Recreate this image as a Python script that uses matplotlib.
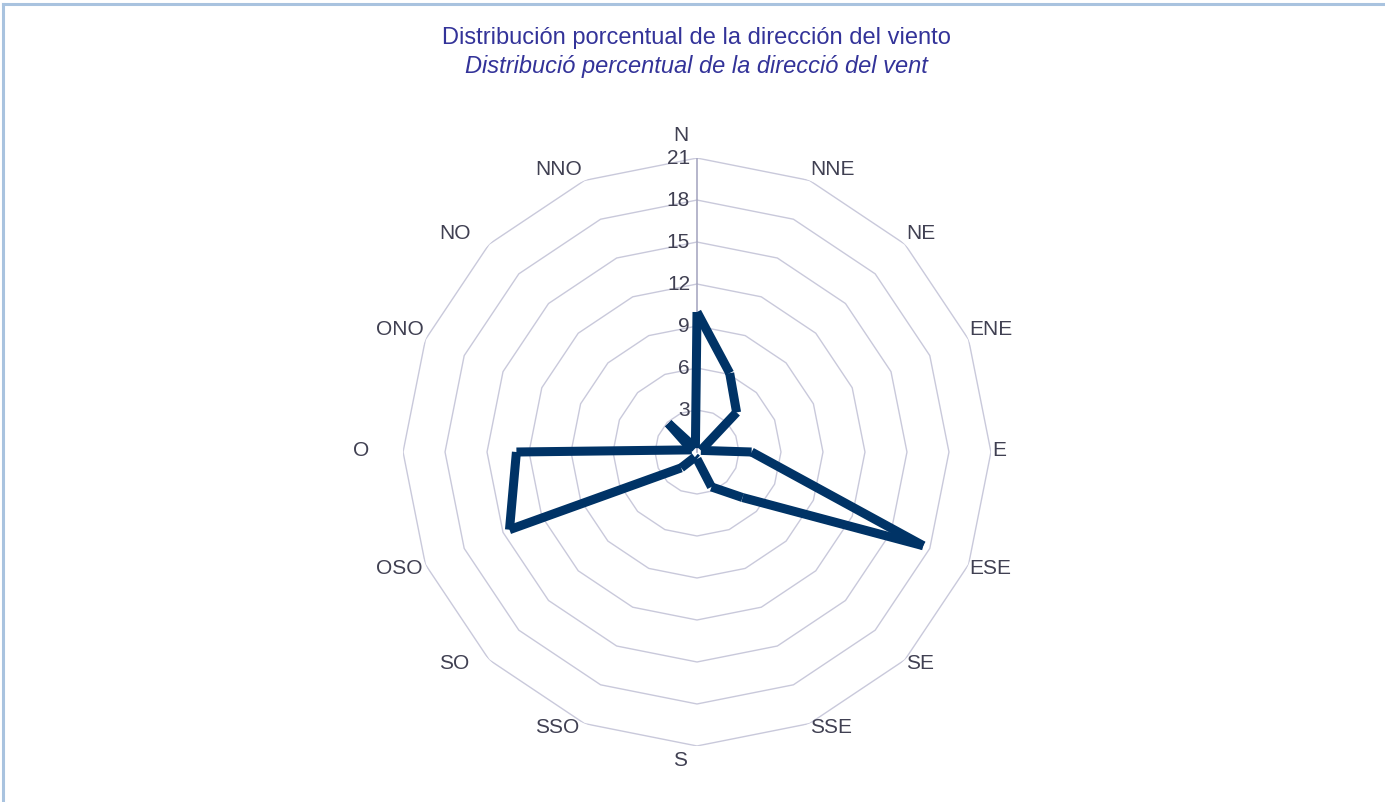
import numpy as np
import matplotlib
matplotlib.use("Agg")
import matplotlib.pyplot as plt
from matplotlib.lines import Line2D

plt.rcParams['font.family'] = ['Liberation Sans', 'DejaVu Sans']

# Wind direction sectors and their percentage frequency
directions = ["N", "NNE", "NE", "ENE", "E", "ESE", "SE", "SSE",
              "S", "SSO", "SO", "OSO", "O", "ONO", "NO", "NNO"]
percent = [10.0, 6.1, 4.0, 0.3, 3.9, 17.5, 4.6, 2.7,
           0.5, 0.4, 1.6, 14.5, 12.9, 0.4, 2.9, 0.3]
rings = [3, 6, 9, 12, 15, 18, 21]

title_es = "Distribución porcentual de la dirección del viento"
title_ca = "Distribució percentual de la direcció del vent"

LINE_COLOR = "#003366"
GRID_COLOR = "#c9c9db"
AXIS_COLOR = "#a9a9c2"
TEXT_COLOR = "#404052"
TITLE_COLOR = "#333399"
FRAME_COLOR = "#a9c3df"
FS = 15

fig = plt.figure(figsize=(13.85, 8.02), dpi=100)
fig.patch.set_facecolor("white")

ax = fig.add_axes([0.2910, 0.0698, 0.4245, 0.7332], projection="polar")
ax.set_theta_zero_location("N")
ax.set_theta_direction(-1)
ax.set_rlim(0, rings[-1])
ax.grid(False)
ax.spines["polar"].set_visible(False)
ax.set_xticks([])
ax.set_yticks([])
ax.patch.set_alpha(0)

n = len(directions)
theta = np.arange(n) * 2 * np.pi / n
theta_closed = np.append(theta, theta[0])

# polygonal rings
for r in rings:
    ax.plot(theta_closed, [r] * (n + 1), color=GRID_COLOR, lw=1.0, zorder=1)
# value axis along north
ax.plot([0, 0], [0, rings[-1]], color=AXIS_COLOR, lw=1.2, zorder=1)

# radial scale labels along the north axis
for r in rings:
    ax.annotate(str(r), xy=(0, r), xytext=(-7, 0), textcoords="offset pixels",
                ha="right", va="center", fontsize=FS, color=TEXT_COLOR, zorder=2)

# data polygon, drawn segment by segment
vals_closed = np.append(percent, percent[0])
for i in range(n):
    ax.plot(theta_closed[i:i + 2], vals_closed[i:i + 2], color=LINE_COLOR,
            lw=6.5, solid_capstyle="butt", zorder=3)

# direction labels placed around the outer ring
fig.canvas.draw()
renderer = fig.canvas.get_renderer()
probe = fig.text(0, 0, "ONO", fontsize=FS)
box_w = probe.get_window_extent(renderer).width
probe.remove()

for name, t in zip(directions, theta):
    s, c = np.sin(t), np.cos(t)
    if s > 0.1:
        dx = 1
    elif s < -0.1:
        dx = -2 - box_w
    else:
        dx = -box_w / 2
    if c > 0.99:
        dy = 23
    elif c < -0.99:
        dy = -15
    elif c > 0.1:
        dy = 10.5
    elif c < -0.1:
        dy = -3.5
    else:
        dy = 2
    ax.annotate(name, xy=(t, rings[-1]), xytext=(dx, dy), textcoords="offset pixels",
                ha="left", va="center", fontsize=FS, color=TEXT_COLOR,
                annotation_clip=False)

# two-language title
fig.text(0.5029, 1 - 38 / 802, title_es, ha="center", va="center",
         fontsize=17, color=TITLE_COLOR)
fig.text(0.5029, 1 - 66 / 802, title_ca, ha="center", va="center",
         fontsize=17, color=TITLE_COLOR, style="italic")

# light blue frame edges (top and left)
fig.add_artist(Line2D([3 / 1385, 1], [1 - 4 / 802, 1 - 4 / 802],
                      transform=fig.transFigure, color=FRAME_COLOR, lw=2.2))
fig.add_artist(Line2D([3 / 1385, 3 / 1385], [0, 1 - 4 / 802],
                      transform=fig.transFigure, color=FRAME_COLOR, lw=2.2))

fig.savefig("out.png", dpi=100, facecolor="white")
